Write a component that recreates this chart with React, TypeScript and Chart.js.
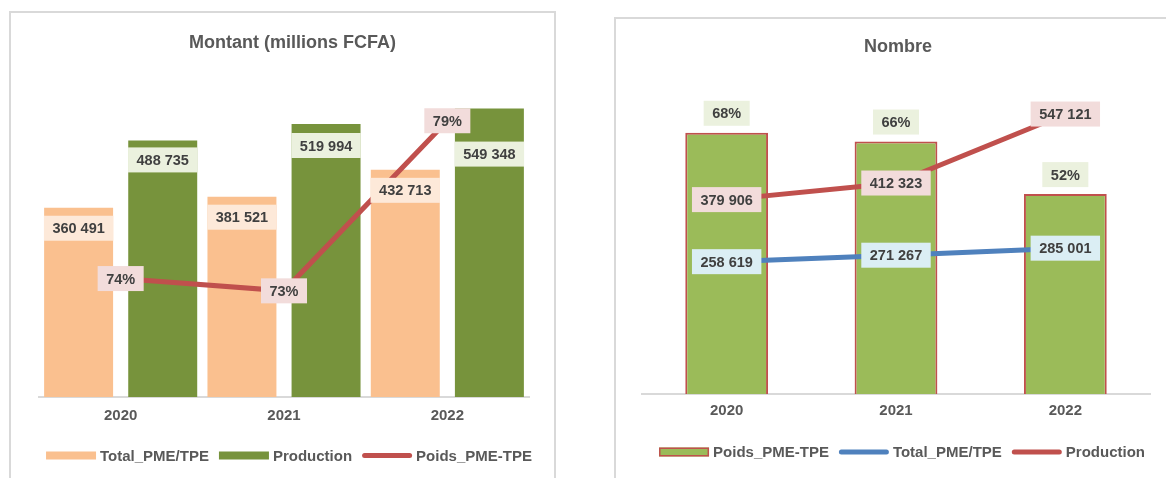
import React, { useEffect, useRef } from 'react';
import { Chart, registerables } from 'chart.js';

Chart.register(...registerables);

// ---------- data ----------
const years = ['2020', '2021', '2022'];

// Montant (millions FCFA)
const montantTotal = [360491, 381521, 432713];
const montantProduction = [488735, 519994, 549348];
const montantPoids = [0.7376, 0.7337, 0.7877];

// Nombre
const nombrePoids = [0.6807, 0.6579, 0.5209];
const nombreTotal = [258619, 271267, 285001];
const nombreProduction = [379906, 412323, 547121];

// ---------- helpers ----------
const FONT = '"Liberation Sans", Arial, Helvetica, sans-serif';
const TEXT_DARK = '#404040';
const TEXT_GREY = '#595959';
const fmtNum = (v: number) => String(Math.round(v)).replace(/\B(?=(\d{3})+(?!\d))/g, ' ');
const fmtPct = (v: number) => Math.round(v * 100) + '%';

const decorPlugin = {
  id: 'excelDecor',
  afterDatasetsDraw(chart: any) {
    const ctx = chart.ctx;
    ctx.save();
    ctx.font = `bold 14.5px ${FONT}`;
    ctx.textAlign = 'center';
    ctx.textBaseline = 'middle';
    chart.data.datasets.forEach((ds: any, di: number) => {
      const lc = ds.labelCfg;
      if (!lc) return;
      const meta = chart.getDatasetMeta(di);
      meta.data.forEach((el: any, i: number) => {
        const v = ds.data[i];
        const text = lc.pct ? fmtPct(v) : fmtNum(v);
        const tw = ctx.measureText(text).width;
        const w = tw + 17;
        const h = 25;
        const cx = el.x;
        let cy = el.y;
        if (lc.mode === 'inside') cy = el.y + (lc.offsets ? lc.offsets[i] : 8) + h / 2;
        else if (lc.mode === 'outside') cy = el.y - 7 - h / 2;
        ctx.fillStyle = lc.bg;
        ctx.fillRect(cx - w / 2, cy - h / 2, w, h);
        ctx.fillStyle = TEXT_DARK;
        ctx.fillText(text, cx, cy + 1);
      });
    });
    ctx.restore();
  },
  afterDraw(chart: any) {
    const o = chart.options.plugins.excelDecor;
    if (!o) return;
    const ctx = chart.ctx;
    ctx.save();
    // title
    ctx.font = `bold 18px ${FONT}`;
    ctx.fillStyle = TEXT_GREY;
    ctx.textAlign = 'center';
    ctx.textBaseline = 'middle';
    ctx.fillText(o.title, o.titleX, o.titleY);
    // legend
    ctx.font = `bold 15px ${FONT}`;
    const sw = 50, g1 = 4, g2 = 10;
    const items = chart.data.datasets.map((ds: any) => ({
      label: ds.label,
      type: ds.type || 'bar',
      fill: ds.type === 'line' ? ds.borderColor : ds.backgroundColor,
      stroke: ds.type === 'line' ? null : (ds.borderWidth ? ds.borderColor : null),
      tw: ctx.measureText(ds.label).width,
    }));
    const total = items.reduce((s: number, it: any) => s + sw + g1 + it.tw, 0) + g2 * (items.length - 1);
    let x = o.legendCX - total / 2;
    const cy = o.legendY;
    ctx.textAlign = 'left';
    items.forEach((it: any) => {
      if (it.type === 'line') {
        ctx.strokeStyle = it.fill;
        ctx.lineWidth = 5;
        ctx.lineCap = 'round';
        ctx.beginPath();
        ctx.moveTo(x + 2.5, cy);
        ctx.lineTo(x + sw - 2.5, cy);
        ctx.stroke();
      } else {
        const bh = it.stroke ? 9 : 8;
        ctx.fillStyle = it.fill;
        ctx.fillRect(x, cy - bh / 2, sw, bh);
        if (it.stroke) {
          ctx.strokeStyle = it.stroke;
          ctx.lineWidth = 1.5;
          ctx.strokeRect(x + 0.75, cy - bh / 2 + 0.75, sw - 1.5, bh - 1.5);
        }
      }
      x += sw + g1;
      ctx.fillStyle = TEXT_GREY;
      ctx.fillText(it.label, x, cy + 1);
      x += it.tw + g2;
    });
    ctx.restore();
  },
};

function xAxis(pad: number) {
  return {
    grid: { display: false, drawTicks: false },
    border: { display: true, color: '#D9D9D9', width: 2 },
    ticks: { color: TEXT_GREY, font: { family: FONT, size: 15, weight: 'bold' }, padding: pad },
  };
}

function makeMontantConfig(): any {
  return {
    type: 'bar',
    data: {
      labels: years,
      datasets: [
        {
          label: 'Total_PME/TPE',
          data: montantTotal,
          backgroundColor: '#FAC08F',
          yAxisID: 'y',
          order: 2,
          categoryPercentage: 1.03,
          barPercentage: 0.82,
          labelCfg: { mode: 'inside', bg: '#FDE9D9', offsets: [8, 8, 8] },
        },
        {
          label: 'Production',
          data: montantProduction,
          backgroundColor: '#77933C',
          yAxisID: 'y',
          order: 2,
          categoryPercentage: 1.03,
          barPercentage: 0.82,
          labelCfg: { mode: 'inside', bg: '#EBF1DE', offsets: [7, 9, 33] },
        },
        {
          type: 'line',
          label: 'Poids_PME-TPE',
          data: montantPoids,
          borderColor: '#C0504D',
          backgroundColor: '#C0504D',
          borderWidth: 5,
          pointRadius: 0,
          tension: 0,
          yAxisID: 'y1',
          order: 0,
          labelCfg: { mode: 'center', bg: '#F2DCDB', pct: true },
        },
      ],
    },
    options: {
      responsive: false,
      animation: false,
      layout: { padding: { left: 28, right: 26, top: 70, bottom: 43 } },
      plugins: {
        legend: { display: false },
        title: { display: false },
        tooltip: { enabled: false },
        excelDecor: { title: 'Montant (millions FCFA)', titleX: 281.5, titleY: 31, legendCX: 278, legendY: 443.5 },
      },
      scales: {
        x: xAxis(10),
        y: { display: false, min: 0, max: 600000 },
        y1: { display: false, min: 0.7, max: 0.8 },
      },
    },
    plugins: [decorPlugin],
  };
}

function makeNombreConfig(): any {
  return {
    type: 'bar',
    data: {
      labels: years,
      datasets: [
        {
          label: 'Poids_PME-TPE',
          data: nombrePoids,
          backgroundColor: '#9BBB59',
          borderColor: '#C0504D',
          borderWidth: 2,
          borderSkipped: 'start',
          yAxisID: 'y',
          order: 2,
          categoryPercentage: 1,
          barPercentage: 0.489,
          labelCfg: { mode: 'outside', bg: '#EBF1DE', pct: true },
        },
        {
          type: 'line',
          label: 'Total_PME/TPE',
          data: nombreTotal,
          borderColor: '#4F81BD',
          backgroundColor: '#4F81BD',
          borderWidth: 5,
          pointRadius: 0,
          tension: 0,
          yAxisID: 'y1',
          order: 0,
          labelCfg: { mode: 'center', bg: '#DBEEF4' },
        },
        {
          type: 'line',
          label: 'Production',
          data: nombreProduction,
          borderColor: '#C0504D',
          backgroundColor: '#C0504D',
          borderWidth: 5,
          pointRadius: 0,
          tension: 0,
          yAxisID: 'y1',
          order: 0,
          labelCfg: { mode: 'center', bg: '#F2DCDB' },
        },
      ],
    },
    options: {
      responsive: false,
      animation: false,
      layout: { padding: { left: 26, right: 16, top: 69, bottom: 50 } },
      plugins: {
        legend: { display: false },
        title: { display: false },
        tooltip: { enabled: false },
        excelDecor: { title: 'Nombre', titleX: 282, titleY: 28.7, legendCX: 286, legendY: 434 },
      },
      scales: {
        x: xAxis(8),
        y: { display: false, min: 0, max: 0.8 },
        y1: { display: false, min: 0, max: 600000 },
      },
    },
    plugins: [decorPlugin],
  };
}

function ChartCanvas(props: { make: () => any; left: number; top: number; width: number; height: number }) {
  const ref = useRef<HTMLCanvasElement>(null);
  useEffect(() => {
    const chart = new Chart(ref.current as HTMLCanvasElement, props.make());
    return () => chart.destroy();
  }, []);
  return (
    <canvas
      ref={ref}
      width={props.width}
      height={props.height}
      style={{ position: 'absolute', left: props.left, top: props.top, width: props.width, height: props.height }}
    />
  );
}

export default function App() {
  return (
    <div
      style={{
        position: 'fixed',
        left: 0,
        top: 0,
        width: 1166,
        height: 478,
        overflow: 'hidden',
        background: '#ffffff',
      }}
    >
      <div
        style={{
          position: 'absolute',
          left: 9,
          top: 11,
          width: 547,
          height: 520,
          border: '2px solid #D9D9D9',
          boxSizing: 'border-box',
        }}
      />
      <div
        style={{
          position: 'absolute',
          left: 614,
          top: 17,
          width: 620,
          height: 520,
          border: '2px solid #D9D9D9',
          boxSizing: 'border-box',
        }}
      />
      <ChartCanvas make={makeMontantConfig} left={11} top={12} width={544} height={466} />
      <ChartCanvas make={makeNombreConfig} left={616} top={18} width={550} height={460} />
    </div>
  );
}
